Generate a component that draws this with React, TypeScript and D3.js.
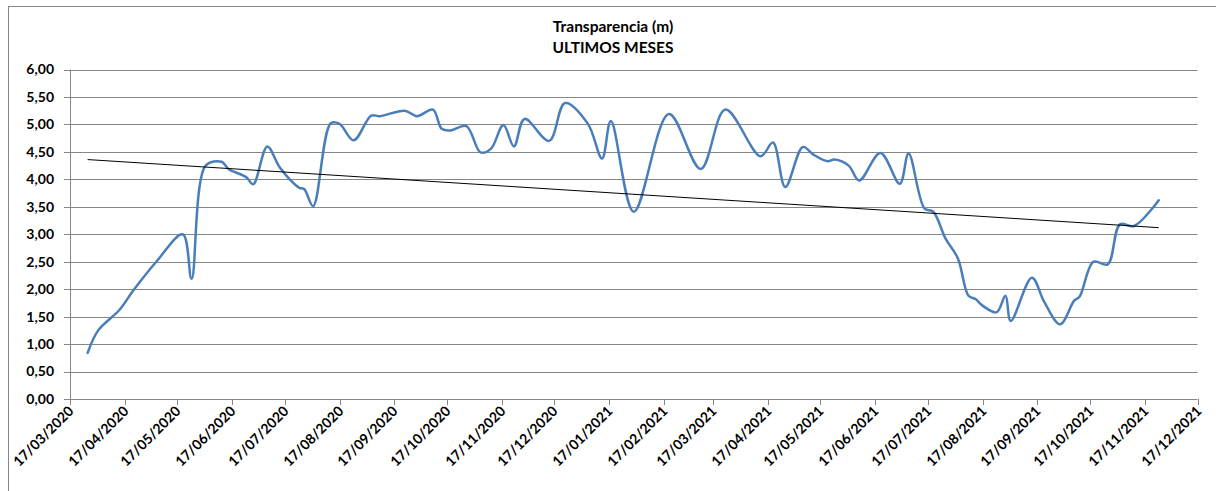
import React from "react";
import * as d3 from "d3";

const dates: string[] = [
  "2020-03-27","2020-04-02","2020-04-14","2020-04-22","2020-05-05","2020-05-20","2020-05-25",
  "2020-06-02","2020-06-11","2020-06-15","2020-06-25","2020-06-29","2020-07-07","2020-07-14",
  "2020-07-25","2020-07-28","2020-08-02","2020-08-12","2020-08-17","2020-08-25","2020-09-04",
  "2020-09-09","2020-09-23","2020-09-30","2020-10-09","2020-10-14","2020-10-19","2020-10-28",
  "2020-11-05","2020-11-11","2020-11-18","2020-11-24","2020-11-30","2020-12-14","2020-12-23",
  "2021-01-05","2021-01-13","2021-01-18","2021-01-31","2021-02-20","2021-03-10","2021-03-24",
  "2021-04-13","2021-04-20","2021-04-27","2021-05-07","2021-05-13","2021-05-21","2021-05-25",
  "2021-06-02","2021-06-08","2021-06-20","2021-07-01","2021-07-06","2021-07-15","2021-07-20",
  "2021-07-27","2021-08-03","2021-08-09","2021-08-13","2021-08-17","2021-08-25","2021-08-30",
  "2021-09-02","2021-09-14","2021-09-21","2021-09-30","2021-10-08","2021-10-11","2021-10-19",
  "2021-10-27","2021-11-03","2021-11-11","2021-11-25"
];
const values: number[] = [
  0.84,1.25,1.62,1.98,2.50,3.00,2.19,
  4.25,4.32,4.19,4.04,3.91,4.60,4.22,
  3.85,3.82,3.51,5.02,5.01,4.71,5.16,
  5.15,5.25,5.15,5.27,4.92,4.89,4.97,
  4.49,4.56,4.99,4.60,5.10,4.70,5.39,
  5.01,4.38,5.06,3.41,5.19,4.19,5.27,
  4.42,4.67,3.86,4.59,4.45,4.33,4.36,
  4.25,3.98,4.48,3.92,4.47,3.47,3.41,
  2.92,2.56,1.88,1.82,1.70,1.58,1.88,
  1.42,2.21,1.77,1.36,1.79,1.86,2.50,
  2.45,3.18,3.15,3.62
];
const trendDates: string[] = ["2020-03-27", "2021-11-25"];
const trendValues: number[] = [4.36, 3.12];
const yTicks: number[] = [0, 0.5, 1, 1.5, 2, 2.5, 3, 3.5, 4, 4.5, 5, 5.5, 6];
const xDomain: string[] = ["2020-03-17", "2021-12-17"];
const titleLines: string[] = ["Transparencia (m)", "ULTIMOS MESES"];

const parse = (s: string) => {
  const [y, m, d] = s.split("-").map(Number);
  return new Date(y, m - 1, d);
};

export default function App() {
  const W = 1216, H = 491;
  const left = 70, right = 1197.5, top = 69.5, bottom = 399;
  const x = d3.scaleTime().domain(xDomain.map(parse)).range([left, right]);
  const y = d3.scaleLinear().domain([0, 6]).range([bottom, top]);
  const start = parse(xDomain[0]);
  const xTicks: Date[] = [];
  for (let i = 0; i <= 21; i++) xTicks.push(d3.timeMonth.offset(start, i));
  const fmt = d3.timeFormat("%d/%m/%Y");
  const pts = dates.map((d, i) => [x(parse(d)), y(values[i])] as [number, number]);
  const line = d3.line().curve(d3.curveCatmullRom.alpha(0.5))(pts) || "";
  const tpts = trendDates.map((d, i) => [x(parse(d)), y(trendValues[i])] as [number, number]);
  const tline = d3.line()(tpts) || "";
  const font = "Lato, 'Open Sans', sans-serif";
  const grid = "#868686";
  return (
    <svg width={W} height={H} style={{ position: "absolute", left: 0, top: 0 }} fontFamily={font}>
      <rect x={0} y={0} width={W} height={H} fill="#fff" />
      <rect x={8.5} y={6.5} width={1230} height={500} fill="none" stroke={grid} strokeWidth={1} />
      {titleLines.map((t, i) => (
        <text key={t} x={613} y={31.5 + i * 21.5} textAnchor="middle" fontWeight="bold" fontSize={15.5} fill="#000">
          {t}
        </text>
      ))}
      {yTicks.map((v) => (
        <g key={v}>
          <line x1={left - 6} x2={right} y1={Math.round(y(v)) + 0.5} y2={Math.round(y(v)) + 0.5} stroke={grid} strokeWidth={1} />
          <text x={54} y={y(v)} dy="0.35em" textAnchor="end" fontWeight="bold" fontSize={14} fill="#000">
            {v.toFixed(2).replace(".", ",")}
          </text>
        </g>
      ))}
      <line x1={left + 0.5} x2={left + 0.5} y1={top} y2={bottom} stroke={grid} strokeWidth={1} />
      {xTicks.map((t) => {
        const tx = Math.round(x(t)) + 0.5;
        return (
          <g key={t.getTime()}>
            <line x1={tx} x2={tx} y1={bottom} y2={bottom + 6} stroke={grid} strokeWidth={1} />
            <text
              transform={`translate(${tx + 4},${bottom + 13}) rotate(-45)`}
              textAnchor="end"
              fontWeight="bold"
              fontSize={14}
              fill="#000"
            >
              {fmt(t)}
            </text>
          </g>
        );
      })}
      <path d={line} fill="none" stroke="#4A7EBB" strokeWidth={2.5} strokeLinejoin="round" strokeLinecap="round" />
      <path d={tline} fill="none" stroke="#000" strokeWidth={1} />
    </svg>
  );
}
